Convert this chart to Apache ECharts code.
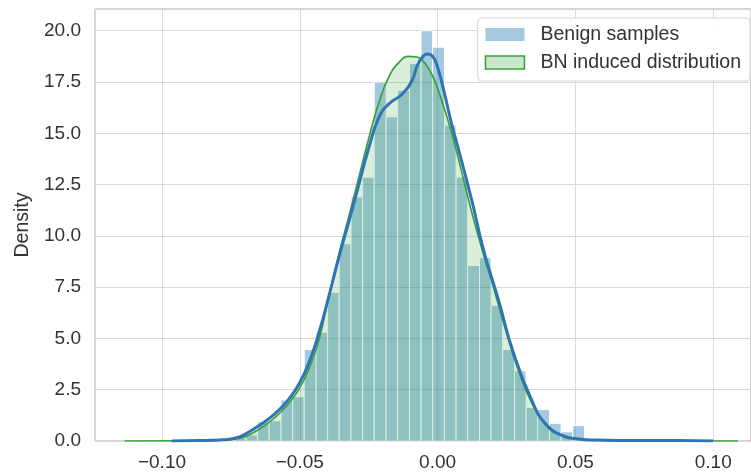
<!DOCTYPE html>
<html>
<head>
<meta charset="utf-8">
<script src="https://cdn.jsdelivr.net/npm/echarts@6/dist/echarts.min.js"></script>
<style>
  html, body { margin: 0; padding: 0; background: #ffffff; }
  #chart { width: 751px; height: 476px; }
</style>
</head>
<body>
<div id="chart"></div>
<script>
// Histogram of the benign samples: bin edges and density per bin
const binEdges = [
  -0.0822, -0.0780, -0.0738, -0.0695, -0.0653, -0.0611, -0.0568, -0.0526,
  -0.0484, -0.0441, -0.0399, -0.0357, -0.0314, -0.0272, -0.0230, -0.0187,
  -0.0145, -0.0102, -0.0060, -0.0018, 0.0025, 0.0067, 0.0109, 0.0152,
  0.0194, 0.0236, 0.0279, 0.0321, 0.0363, 0.0406, 0.0448, 0.0490,
  0.0533, 0.0575, 0.0617
];
const benignDensity = [
  0.03, 0.05, 0.15, 0.3, 0.94, 0.99, 2.0, 2.16,
  4.46, 5.3, 7.25, 9.62, 11.9, 12.86, 17.5, 15.8,
  17.1, 18.4, 20.0, 19.2, 15.4, 12.86, 8.56, 8.94,
  6.62, 4.46, 3.42, 1.64, 1.54, 0.86, 0.45, 0.75,
  0.05, 0.03
];

// Kernel density estimate of the benign samples
const benignKdeX = [
  -0.0965, -0.0864, -0.0792, -0.0756, -0.0719, -0.0683, -0.0647, -0.0611,
  -0.0575, -0.0539, -0.0502, -0.0466, -0.0430, -0.0392, -0.0358, -0.0321,
  -0.0285, -0.0249, -0.0213, -0.0177, -0.0128, -0.0092, -0.0074, -0.0056,
  -0.0038, -0.0020, -0.0002, 0.0022, 0.0050, 0.0077, 0.0124, 0.0167,
  0.0221, 0.0272, 0.0341, 0.0395, 0.0457, 0.0511, 0.0571, 0.0728,
  0.0873, 0.1000
];
const benignKdeY = [
  0.0, 0.02, 0.05, 0.09, 0.2, 0.45, 0.76, 1.1,
  1.52, 2.05, 2.8, 3.85, 5.3, 7.19, 8.97, 10.75,
  12.54, 14.32, 15.78, 16.43, 16.92, 17.6, 18.3, 18.7,
  18.87, 18.78, 18.3, 17.1, 15.5, 14.16, 11.73, 9.29,
  6.86, 4.43, 2.0, 0.78, 0.24, 0.1, 0.05, 0.02,
  0.03, 0.0
];

// Shaded density of the BN induced distribution
const bnKdeX = [
  -0.1135, -0.0936, -0.0792, -0.0719, -0.0683, -0.0647, -0.0611, -0.0575,
  -0.0539, -0.0502, -0.0466, -0.0430, -0.0394, -0.0358, -0.0321, -0.0285,
  -0.0249, -0.0213, -0.0177, -0.0141, -0.0105, -0.0075, -0.0045, -0.0015,
  0.0010, 0.0047, 0.0083, 0.0119, 0.0161, 0.0197, 0.0246, 0.0294,
  0.0342, 0.0391, 0.0451, 0.0511, 0.0583, 0.0764, 0.1090
];
const bnKdeY = [
  0.0, 0.01, 0.04, 0.13, 0.3, 0.58, 0.92, 1.33,
  1.85, 2.55, 3.55, 4.95, 7.1, 9.1, 11.0, 12.9,
  14.8, 16.5, 17.75, 18.45, 18.75, 18.72, 18.4, 17.7,
  16.8, 15.2, 13.35, 11.4, 9.35, 7.75, 5.45, 3.4,
  1.85, 0.88, 0.3, 0.1, 0.03, 0.01, 0.0
];

const seriesNames = ['Benign samples', 'BN induced distribution'];
const yAxisTitle = 'Density';

const FONT = "'Liberation Sans', Arial, Helvetica, sans-serif";
const TEXT_COLOR = '#333333';

const histData = benignDensity.map((h, i) => [binEdges[i], binEdges[i + 1], h]);
const zip = (xs, ys) => xs.map((x, i) => [x, ys[i]]);

const chart = echarts.init(document.getElementById('chart'), null, { renderer: 'canvas' });

const option = {
  animation: false,
  backgroundColor: '#ffffff',
  grid: {
    left: 95, right: -2, top: 9, bottom: 35,
    show: true,
    backgroundColor: '#ffffff',
    borderColor: '#a8a8a8',
    borderWidth: 1
  },
  xAxis: {
    type: 'value',
    min: -0.1243,
    max: 0.1137,
    minInterval: 0.05,
    maxInterval: 0.05,
    axisLine: { show: false },
    axisTick: { show: false },
    splitLine: { show: true, lineStyle: { color: '#d9d9d9', width: 1 } },
    axisLabel: {
      showMinLabel: false,
      showMaxLabel: false,
      margin: 12,
      fontFamily: FONT,
      fontSize: 19,
      color: TEXT_COLOR,
      formatter: v => (v < -1e-9 ? '\u2212' : '') + Math.abs(v).toFixed(2)
    }
  },
  yAxis: {
    type: 'value',
    min: 0,
    max: 21.06,
    interval: 2.5,
    name: yAxisTitle,
    nameLocation: 'middle',
    nameGap: 58,
    nameRotate: 90,
    nameTextStyle: { fontFamily: FONT, fontSize: 19.5, color: TEXT_COLOR },
    axisLine: { show: false },
    axisTick: { show: false },
    splitLine: { show: true, lineStyle: { color: '#d9d9d9', width: 1 } },
    axisLabel: {
      showMaxLabel: false,
      margin: 14,
      fontFamily: FONT,
      fontSize: 19,
      color: TEXT_COLOR,
      formatter: v => v.toFixed(1)
    }
  },
  legend: {
    orient: 'vertical',
    right: 1,
    top: 18,
    padding: [5, 9, 7, 7],
    itemGap: 5,
    itemWidth: 39,
    itemHeight: 13,
    backgroundColor: 'rgba(255,255,255,0.92)',
    borderColor: '#d6d6d6',
    borderWidth: 1,
    borderRadius: 4,
    textStyle: {
      fontFamily: FONT,
      fontSize: 19.5,
      color: TEXT_COLOR,
      lineHeight: 23,
      padding: [0, 0, 0, 11]
    },
    data: [
      { name: seriesNames[0], icon: 'rect',
        itemStyle: { color: 'rgba(31,119,180,0.4)', borderWidth: 0 } },
      { name: seriesNames[1], icon: 'rect',
        itemStyle: { color: 'rgba(44,160,44,0.25)', borderColor: '#3aa13a', borderWidth: 1.5 } }
    ]
  },
  series: [
    {
      name: seriesNames[0],
      type: 'custom',
      z: 2,
      encode: { x: [0, 1], y: 2 },
      itemStyle: { color: 'rgba(31,119,180,0.4)' },
      renderItem: function (params, api) {
        const top = api.coord([api.value(0), api.value(2)]);
        const base = api.coord([api.value(1), 0]);
        return {
          type: 'rect',
          shape: { x: top[0], y: top[1], width: base[0] - top[0], height: base[1] - top[1] },
          style: { fill: 'rgba(31,119,180,0.4)', stroke: '#ffffff', lineWidth: 1 }
        };
      },
      data: histData
    },
    {
      name: seriesNames[1],
      type: 'line',
      z: 3,
      smooth: 0.5,
      showSymbol: false,
      symbol: 'none',
      lineStyle: { color: '#3aa13a', width: 1.7 },
      itemStyle: { color: '#3aa13a' },
      areaStyle: { color: 'rgba(44,160,44,0.25)', origin: 'start' },
      data: zip(bnKdeX, bnKdeY)
    },
    {
      name: 'benign kde',
      type: 'line',
      z: 4,
      smooth: 0.5,
      showSymbol: false,
      symbol: 'none',
      lineStyle: { color: '#2f74b5', width: 3 },
      itemStyle: { color: '#2f74b5' },
      data: zip(benignKdeX, benignKdeY)
    }
  ]
};

chart.setOption(option);
</script>
</body>
</html>
